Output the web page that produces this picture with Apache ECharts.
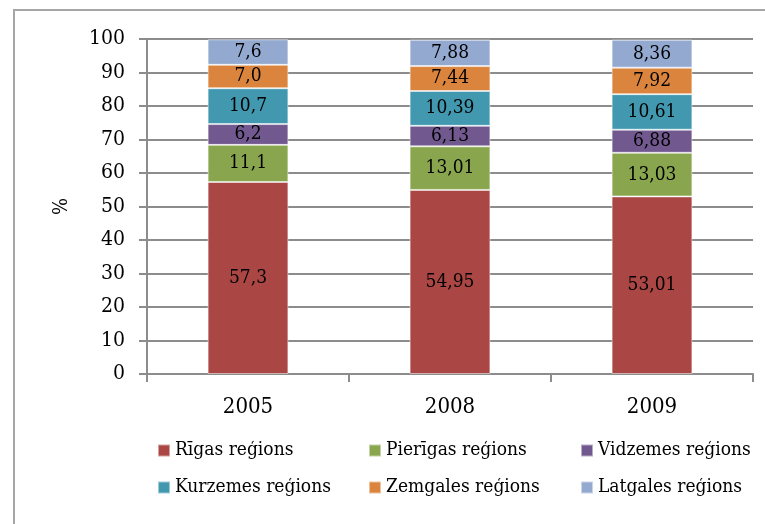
<!DOCTYPE html>
<html>
<head>
<meta charset="utf-8">
<script src="https://cdn.jsdelivr.net/npm/echarts@6/dist/echarts.min.js"></script>
<style>
  html, body { margin: 0; padding: 0; background: #fff; }
  #chart { width: 765px; height: 524px; }
</style>
</head>
<body>
<div id="chart"></div>
<script>
const years = ['2005', '2008', '2009']
const decimals = [1, 2, 2]

const rigas = [57.3, 54.95, 53.01]
const pierigas = [11.1, 13.01, 13.03]
const vidzemes = [6.2, 6.13, 6.88]
const kurzemes = [10.7, 10.39, 10.61]
const zemgales = [7.0, 7.44, 7.92]
const latgales = [7.6, 7.88, 8.36]

const regions = [
  { name: 'Rīgas reģions', data: rigas, color: '#AA4643' },
  { name: 'Pierīgas reģions', data: pierigas, color: '#89A54E' },
  { name: 'Vidzemes reģions', data: vidzemes, color: '#71588F' },
  { name: 'Kurzemes reģions', data: kurzemes, color: '#4198AF' },
  { name: 'Zemgales reģions', data: zemgales, color: '#DB843D' },
  { name: 'Latgales reģions', data: latgales, color: '#93A9CF' }
]

const font = '"DejaVu Serif Condensed", "DejaVu Serif", serif'
const chart = echarts.init(document.getElementById('chart'))

// legend: 3 columns, 2 rows
const legendCols = [152, 363, 575]
const legends = legendCols.map((left, i) => ({
  orient: 'vertical',
  left: left,
  top: 436,
  itemWidth: 12,
  itemHeight: 12,
  itemGap: 18,
  icon: 'rect',
  data: [regions[i].name, regions[i + 3].name],
  textStyle: { fontFamily: font, fontSize: 19, color: '#000' }
}))

const option = {
  animation: false,
  graphic: [{
    type: 'rect',
    shape: { x: 14, y: 10, width: 900, height: 700 },
    style: { fill: 'none', stroke: '#a6a6a6', lineWidth: 2 },
    silent: true
  }],
  legend: legends,
  grid: { left: 147, right: 12, top: 39, bottom: 150 },
  xAxis: {
    type: 'category',
    data: years,
    axisLine: { lineStyle: { color: '#8c8c8c', width: 2 } },
    axisTick: { show: true, length: 8, lineStyle: { color: '#8c8c8c', width: 2 } },
    axisLabel: { margin: 22, fontFamily: font, fontSize: 22, color: '#000' }
  },
  yAxis: {
    type: 'value',
    min: 0,
    max: 100,
    interval: 10,
    name: '%',
    nameLocation: 'middle',
    nameGap: 75,
    nameRotate: 90,
    nameTextStyle: { fontFamily: font, fontSize: 20, color: '#000' },
    axisLine: { show: true, lineStyle: { color: '#8c8c8c', width: 2 } },
    axisTick: { show: true, length: 8, lineStyle: { color: '#8c8c8c', width: 2 } },
    axisLabel: { margin: 22, fontFamily: font, fontSize: 21, color: '#000' },
    splitLine: { lineStyle: { color: '#8c8c8c', width: 2 } }
  },
  series: regions.map(r => ({
    name: r.name,
    type: 'bar',
    stack: 'total',
    barWidth: '40%',
    data: r.data,
    itemStyle: { color: r.color, borderColor: 'rgba(255,255,255,0.5)', borderWidth: 1 },
    label: {
      show: true,
      position: 'inside',
      fontFamily: font,
      fontSize: 19,
      color: '#000',
      formatter: p => p.value.toFixed(decimals[p.dataIndex]).replace('.', ',')
    }
  }))
}

chart.setOption(option)
</script>
</body>
</html>
